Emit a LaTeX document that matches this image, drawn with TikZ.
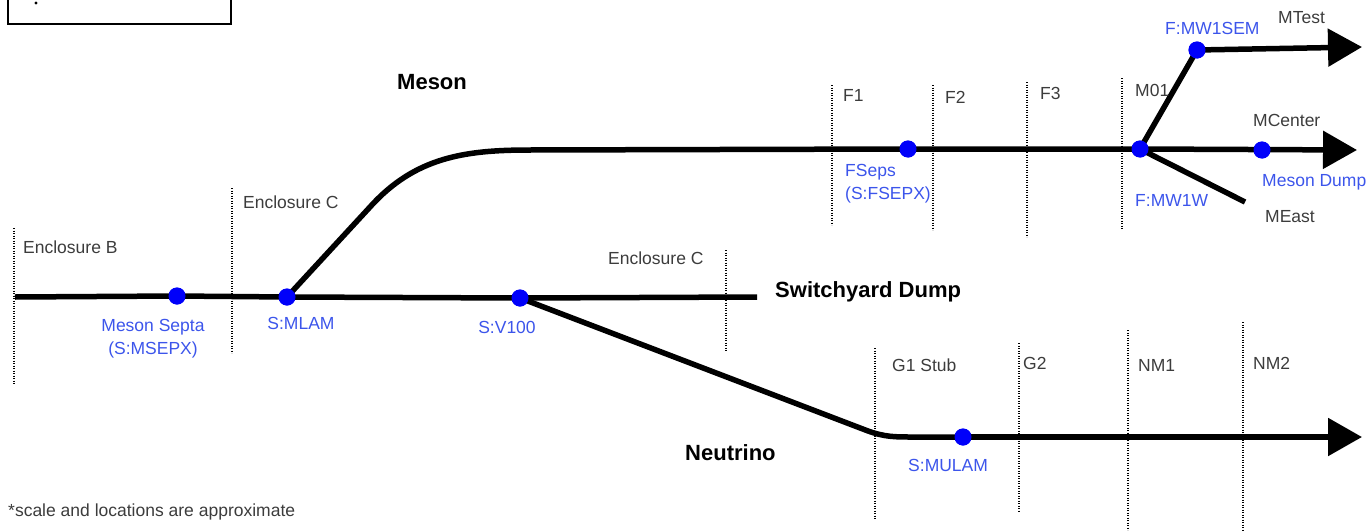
\documentclass[tikz,border=0pt]{standalone}
\usepackage{fontspec}
\setmainfont{Liberation Sans}
\usetikzlibrary{arrows.meta}
\definecolor{labgray}{RGB}{60,60,60}
\definecolor{labblue}{RGB}{60,85,235}
\definecolor{dotblue}{RGB}{0,0,250}
\tikzset{
  lab/.style={font=\fontsize{17.5}{20}\selectfont, text=labgray, inner sep=0, anchor=west},
  blab/.style={font=\fontsize{17.5}{23}\selectfont, text=labblue, inner sep=0},
  big/.style={font=\fontsize{22}{25}\selectfont\bfseries, inner sep=0, anchor=west},
  beam/.style={line width=5.5pt, line join=round},
  beamarrow/.style={beam, -{Triangle[length=34pt,width=37pt]}},
  fence/.style={line width=2pt, dash pattern=on 1.3pt off 1.2pt},
  device/.style={circle, fill=dotblue, minimum size=17pt, inner sep=0},
}
\begin{document}
\begin{tikzpicture}[x=1pt,y=-1pt]
\useasboundingbox (0,0) rectangle (1370,530);
\clip (0,0) rectangle (1370,530);
% legend box (cut off)
\draw[line width=2pt] (8,-20) rectangle (231,24);
\fill (36,3) circle (1.6);
% enclosure boundaries
\draw[fence] (14,228) -- (14,385);
\draw[fence] (232,188) -- (232,353);
\draw[fence] (726,250) -- (726,352);
\draw[fence] (832,85) -- (832,225);
\draw[fence] (933,85) -- (933,230);
\draw[fence] (1027,82) -- (1027,237);
\draw[fence] (1122,78) -- (1122,230);
\draw[fence] (875,348) -- (875,520);
\draw[fence] (1019,343) -- (1019,512);
\draw[fence] (1128,330) -- (1128,530);
\draw[fence] (1243,322) -- (1243,530);
% devices
\node[device] (msepx) at (177,296) {};
\node[device] (mlam) at (287,297) {};
\node[device] (v100) at (520,298) {};
\node[device] (fsepx) at (908,149) {};
\node[device] (mw1w) at (1140,149) {};
\node[device] (mw1sem) at (1197,50) {};
\node[device] (mcenter) at (1262,150) {};
\node[device] (mulam) at (963,437) {};
% coordinates
\coordinate (west) at (15,297);
\coordinate (sydump) at (757,297);
\coordinate (mbend1) at (370,207);
\coordinate (mbend2) at (530,150);
\coordinate (nbend1) at (868,431);
\coordinate (nbend2) at (912,437);
\coordinate (meast) at (1245,202);
\coordinate (mtestend) at (1362,47);
\coordinate (mcenterend) at (1357,150);
\coordinate (nuend) at (1362,437);
% beamlines
\draw[beam] (west) -- (msepx.center) -- (mlam.center) -- (v100.center) -- (sydump);
\draw[beam] (mlam.center) -- (mbend1) .. controls (415,157) and (465,150) .. (mbend2) -- (fsepx.center) -- (mw1w.center);
\draw[beamarrow] (mw1w.center) -- (mcenterend);
\draw[beam] (mw1w.center) -- (mw1sem.center);
\draw[beamarrow] (mw1sem.center) -- (mtestend);
\draw[beam] (mw1w.center) -- (meast);
\draw[beam] (v100.center) -- (nbend1) .. controls (885,437) and (895,437) .. (nbend2) -- (mulam.center);
\draw[beamarrow] (mulam.center) -- (nuend);
% redraw dots on top
\foreach \n in {msepx,mlam,v100,fsepx,mw1w,mw1sem,mcenter,mulam}
  \fill[dotblue] (\n) circle (8.5);
% gray labels
\node[lab] (encb) at (23,247) {Enclosure B};
\node[lab] (encc1) at (243,202) {Enclosure C};
\node[lab] (encc2) at (608,258) {Enclosure C};
\node[lab] (f1) at (843,95) {F1};
\node[lab] (f2) at (945,97) {F2};
\node[lab] (f3) at (1040,93) {F3};
\node[lab] (m01) at (1135,90) {M01};
\node[lab] (mtest) at (1278,18) {MTest};
\node[lab] (mcent) at (1253,120) {MCenter};
\node[lab] (meastl) at (1265,217) {MEast};
\node[lab] (g1) at (892,365) {G1 Stub};
\node[lab] (g2) at (1023,363) {G2};
\node[lab] (nm1) at (1138,365) {NM1};
\node[lab] (nm2) at (1253,363) {NM2};
\node[lab] (note) at (8,512) {*scale and locations are approximate};
% blue labels
\node[blab, align=center] (msepxl) at (153,339) {Meson Septa\\(S:MSEPX)};
\node[blab] (mlaml) at (301,323) {S:MLAM};
\node[blab] (v100l) at (507,327) {S:V100};
\node[blab, align=left, anchor=west] (fsepxl) at (845,184) {FSeps\\(S:FSEPX)};
\node[blab, anchor=west] (mw1seml) at (1165,28) {F:MW1SEM};
\node[blab, anchor=west] (mw1wl) at (1135,200) {F:MW1W};
\node[blab, anchor=west] (mdump) at (1262,182) {Meson Dump};
\node[blab, anchor=west] (mulaml) at (908,465) {S:MULAM};
% bold labels
\node[big] (meson) at (397,82) {Meson};
\node[big] (swd) at (775,292) {Switchyard Dump};
\node[big] (nu) at (685,453) {Neutrino};
\end{tikzpicture}
\end{document}
